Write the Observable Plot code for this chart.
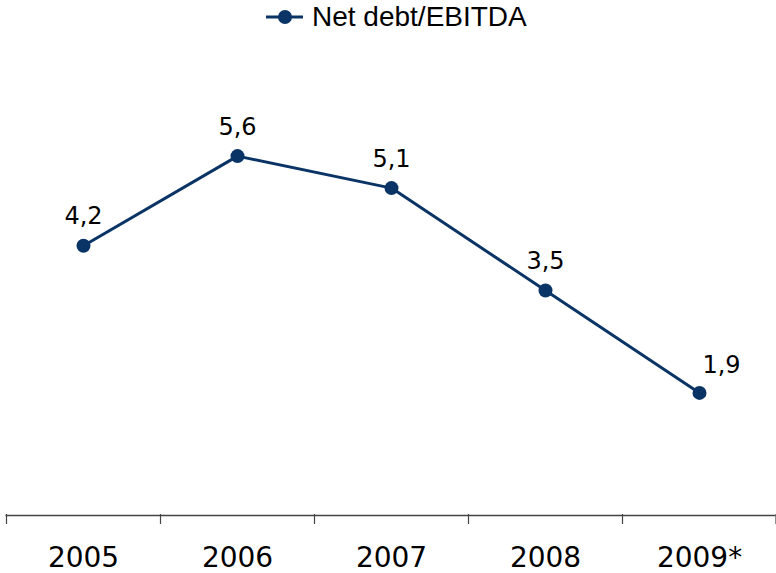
<!DOCTYPE html>
<html>
<head>
<meta charset="utf-8">
<script src="https://cdn.jsdelivr.net/npm/d3@7"></script>
<script src="https://cdn.jsdelivr.net/npm/@observablehq/plot@0.6"></script>
<style>
  html, body { margin: 0; padding: 0; background: #fff; }
  #legend { height: 36px; position: relative; font-family: "Liberation Sans", Arial, sans-serif; font-size: 28px; color: #000; }
  #legend svg { position: absolute; left: 264px; top: 7px; }
  #legend span { position: absolute; left: 312px; top: 1px; line-height: 32px; }
</style>
</head>
<body>
<div id="legend">
  <svg width="42" height="20"><line x1="2" y1="10" x2="39" y2="10" stroke="#0b3466" stroke-width="3"/><circle cx="21" cy="10" r="7" fill="#0b3466"/></svg>
  <span>Net debt/EBITDA</span>
</div>
<div id="chart"></div>
<script>
const categories = ["2005", "2006", "2007", "2008", "2009*"];
const values = [4.2, 5.6, 5.1, 3.5, 1.9];
const valueLabels = ["4,2", "5,6", "5,1", "3,5", "1,9"];

const data = categories.map((c, i) => ({cat: c, value: values[i], label: valueLabels[i]}));
const color = "#0b3466";
const bw = 154;

const plot = Plot.plot({
  width: 776,
  height: 537,
  marginLeft: 5.5,
  marginRight: 0.5,
  marginTop: 30,
  marginBottom: 59,
  style: {fontFamily: "'DejaVu Sans', Verdana, sans-serif", background: "#fff"},
  x: {type: "band", domain: categories, padding: 0, axis: null, label: null},
  y: {domain: [0, 7], axis: null, label: null},
  marks: [
    Plot.axisX({ticks: categories, tickFormat: () => "", tickSize: 10, dx: -bw / 2, stroke: "#444", strokeWidth: 1.2, label: null}),
    Plot.axisX({ticks: categories.slice(-1), tickFormat: () => "", tickSize: 10, dx: bw / 2 - 0.5, stroke: "#444", strokeWidth: 1.2, label: null}),
    Plot.axisX({tickSize: 0, tickPadding: 33, fontSize: 28, fill: "#000", label: null}),
    Plot.ruleY([0], {stroke: "#444", strokeWidth: 1.5, dy: 1}),
    Plot.line(data, {x: "cat", y: "value", stroke: color, strokeWidth: 3}),
    Plot.dot(data, {x: "cat", y: "value", r: 7, fill: color, stroke: "none"}),
    Plot.text(data.slice(0, -1), {x: "cat", y: "value", text: "label", dy: -29, fontSize: 24, fill: "#000"}),
    Plot.text(data.slice(-1), {x: "cat", y: "value", text: "label", dy: -28, dx: 22, fontSize: 24, fill: "#000"})
  ]
});
document.getElementById("chart").appendChild(plot);
</script>
</body>
</html>
